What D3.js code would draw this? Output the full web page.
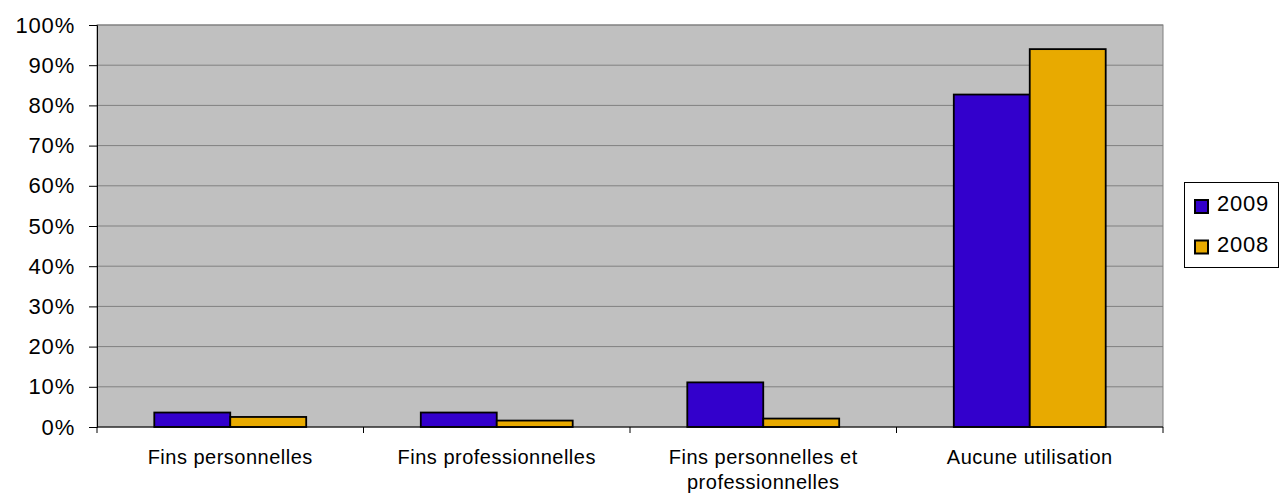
<!DOCTYPE html>
<html><head><meta charset="utf-8">
<script src="https://cdn.jsdelivr.net/npm/d3@7/dist/d3.min.js"></script>
<style>body{margin:0;background:#fff}svg{display:block;font-family:"Liberation Sans",Arial,sans-serif}</style>
</head><body><svg id="c" width="1284" height="500"></svg>
<script>
const categories = ["Fins personnelles", "Fins professionnelles", "Fins personnelles et professionnelles", "Aucune utilisation"];
const seriesNames = ["2009", "2008"];
const values2009 = [3.6, 3.6, 11.1, 82.7];
const values2008 = [2.5, 1.6, 2.1, 94.0];
const yTicks = [0,10,20,30,40,50,60,70,80,90,100];
const colors = ["#3300CC", "#E8AA00"];

const svg = d3.select("#c");
const L=97, R=1163, T=25, B=427;
const x0 = d3.scaleBand().domain(categories).range([L,R]).paddingInner(0.43).paddingOuter(0.215);
const x1 = d3.scaleBand().domain(seriesNames).range([0,x0.bandwidth()]);
const y = d3.scaleLinear().domain([0,100]).range([B,T]);

svg.append("rect").attr("x",L).attr("y",T).attr("width",R-L).attr("height",B-T).attr("fill","#C0C0C0").attr("stroke","#808080").attr("stroke-width",1);

const grid = svg.append("g");
grid.selectAll("line").data(yTicks.filter(d=>d>0)).join("line")
  .attr("x1",L).attr("x2",R).attr("y1",d=>y(d)).attr("y2",d=>y(d)).attr("stroke","#808080").attr("stroke-width",1);

const data = categories.map((c,i)=>({c, vals:[values2009[i], values2008[i]]}));
const g = svg.append("g");
data.forEach(d=>{
  d.vals.forEach((v,j)=>{
    g.append("rect").attr("x",x0(d.c)+x1(seriesNames[j])).attr("y",y(v))
      .attr("width",x1.bandwidth()).attr("height",B-y(v))
      .attr("fill",colors[j]).attr("stroke","#000").attr("stroke-width",1.8);
  });
});

// y axis
const ya = svg.append("g").attr("transform",`translate(${L},0)`)
  .call(d3.axisLeft(y).tickValues(yTicks).tickFormat(d=>d+"%").tickSize(8).tickPadding(14));
ya.select(".domain").attr("stroke","#000");
ya.selectAll(".tick line").attr("stroke","#000");
ya.selectAll("text").attr("font-size",22).attr("fill","#000").attr("letter-spacing","0.8px")
  .attr("font-family","Liberation Sans, Arial, sans-serif");

// x axis
const xa = svg.append("g").attr("transform",`translate(0,${B})`);
xa.append("line").attr("x1",L).attr("x2",R).attr("y1",0).attr("y2",0).attr("stroke","#000");
const bounds = categories.map(c=>x0(c)-x0.step()*x0.paddingInner()/2).concat([R]);
bounds[0]=L;
xa.selectAll("line.t").data(bounds).join("line").attr("class","t")
  .attr("x1",d=>d).attr("x2",d=>d).attr("y1",0).attr("y2",6).attr("stroke","#000");

const labelLines = {"Fins personnelles et professionnelles":["Fins personnelles et","professionnelles"]};
categories.forEach(c=>{
  const lines = labelLines[c] || [c];
  const cx = x0(c)+x0.bandwidth()/2;
  const t = xa.append("text").attr("text-anchor","middle").attr("font-size",20).attr("fill","#000")
    .attr("letter-spacing","0.5px").attr("x",cx).attr("y",37);
  lines.forEach((ln,i)=>t.append("tspan").attr("x",cx).attr("dy",i?25:0).text(ln));
});

// legend
const lg = svg.append("g");
lg.append("rect").attr("x",1184.5).attr("y",182.5).attr("width",94).attr("height",85).attr("fill","#fff").attr("stroke","#000").attr("stroke-width",1);
seriesNames.forEach((s,i)=>{
  const cy = 206.5 + i*40.5;
  lg.append("rect").attr("x",1195).attr("y",cy-6.5).attr("width",13).attr("height",13).attr("fill",colors[i]).attr("stroke","#000").attr("stroke-width",2);
  lg.append("text").attr("x",1217).attr("y",cy+4.5).attr("font-size",22).attr("letter-spacing","0.8px").attr("fill","#000").text(s);
});
</script></body></html>
